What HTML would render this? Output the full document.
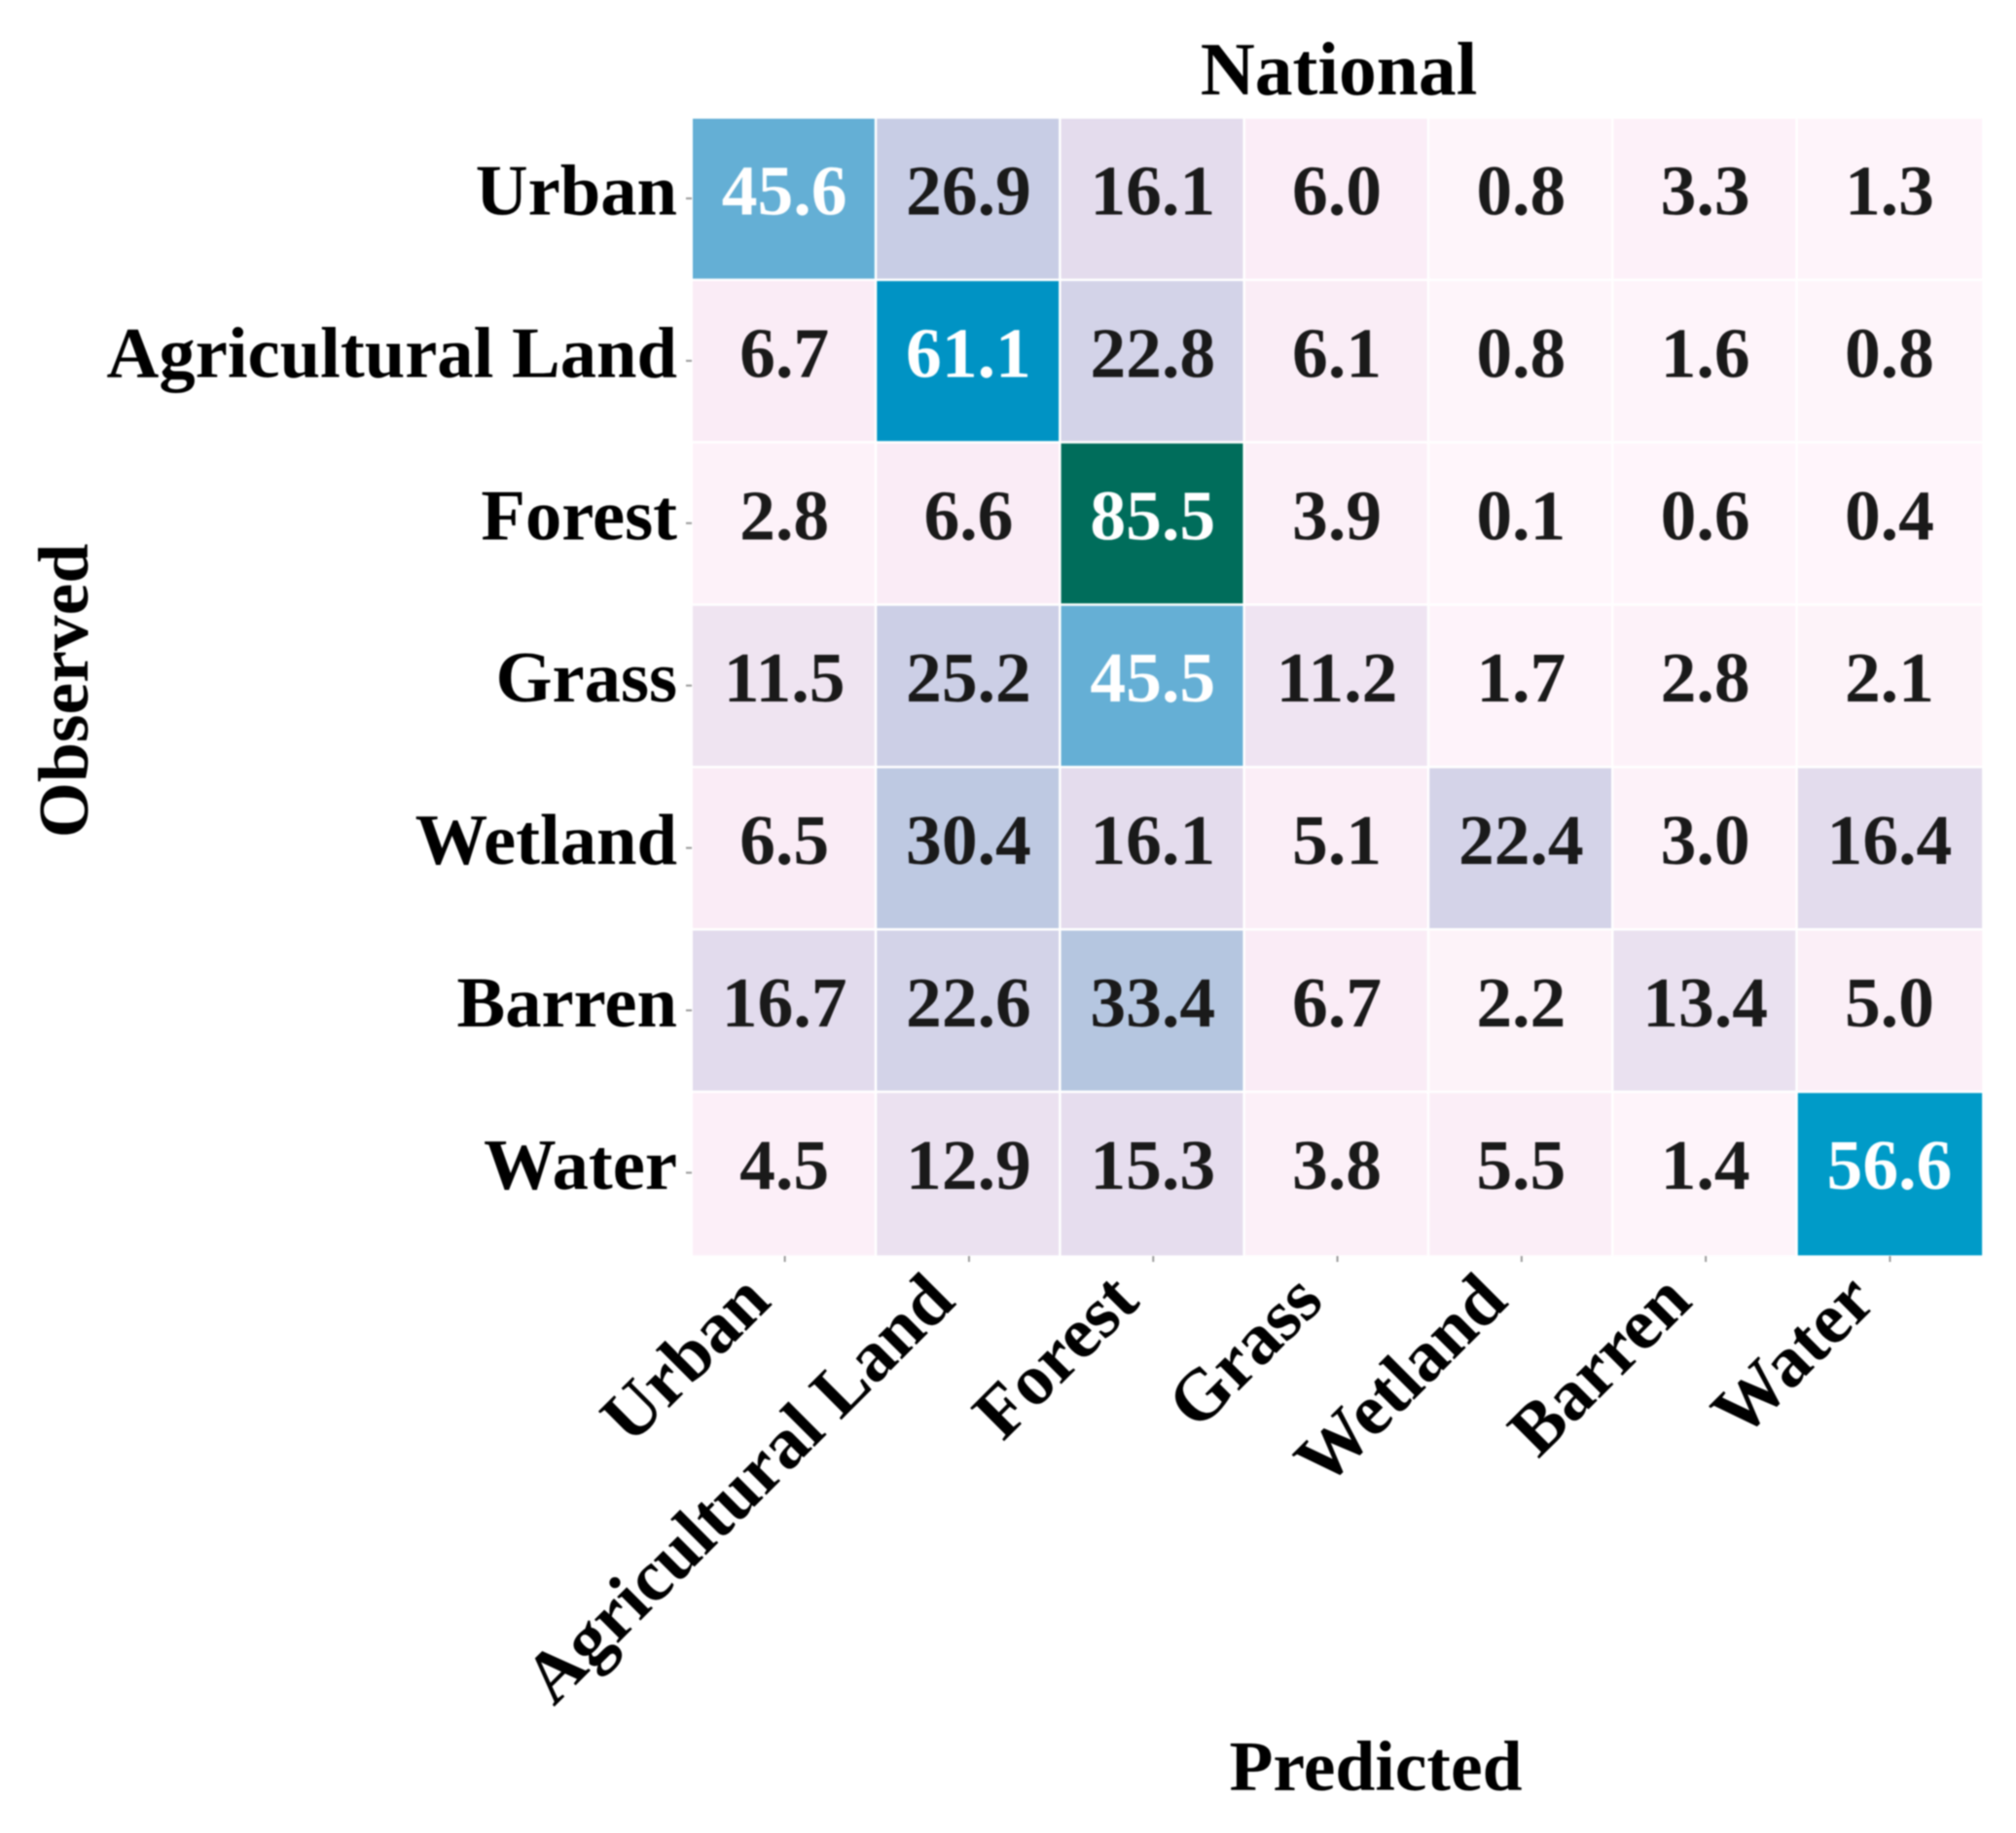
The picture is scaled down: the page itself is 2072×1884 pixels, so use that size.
<!DOCTYPE html>
<html lang="en">
<head>
<meta charset="utf-8">
<title>National confusion matrix</title>
<style>
html,body{margin:0;padding:0;background:#fff;width:2072px;height:1884px;overflow:hidden}
svg{display:block;filter:blur(0.85px)}
text{font-family:"Liberation Serif",serif;font-weight:bold}
</style>
</head>
<body>
<svg id="chart" xmlns="http://www.w3.org/2000/svg" width="2072" height="1884" viewBox="0 0 2072 1884">
  <text x="1376" y="97" font-size="77.6" text-anchor="middle" fill="#000">National</text>
  <text x="1414" y="1840" font-size="73.6" text-anchor="middle" fill="#000">Predicted</text>
  <text transform="translate(90 710) rotate(-90)" font-size="73.6" text-anchor="middle" fill="#000">Observed</text>
  <g id="cells"></g>
  <g id="ticks"></g>
  <g id="labels"></g>
  <g id="values"></g>
</svg>
<script>
const categories = ["Urban", "Agricultural Land", "Forest", "Grass", "Wetland", "Barren", "Water"];
const rowUrban = [45.6, 26.9, 16.1, 6.0, 0.8, 3.3, 1.3];
const rowAgricultural = [6.7, 61.1, 22.8, 6.1, 0.8, 1.6, 0.8];
const rowForest = [2.8, 6.6, 85.5, 3.9, 0.1, 0.6, 0.4];
const rowGrass = [11.5, 25.2, 45.5, 11.2, 1.7, 2.8, 2.1];
const rowWetland = [6.5, 30.4, 16.1, 5.1, 22.4, 3.0, 16.4];
const rowBarren = [16.7, 22.6, 33.4, 6.7, 2.2, 13.4, 5.0];
const rowWater = [4.5, 12.9, 15.3, 3.8, 5.5, 1.4, 56.6];
const matrix = [rowUrban, rowAgricultural, rowForest, rowGrass, rowWetland, rowBarren, rowWater];

const colorValues = [0, 6.7, 16.1, 26.9, 33.4, 45.6, 56.6, 61.1, 85.5, 100];
const colorHexes = ["#fff6fb", "#faecf6", "#e4dced", "#c8cde5", "#b5c6e0", "#64afd5", "#009bc8", "#0093c4", "#006d5b", "#014636"];

const SVG_NS = "http://www.w3.org/2000/svg";
const plotLeft = 712, plotTop = 122, colStep = 189.3, rowStep = 166.9, gap = 2.5;

function xLeft(i) { return plotLeft + i * colStep; }
function yTop(j) { return plotTop + j * rowStep; }
function xCenter(i) { return xLeft(i) + colStep / 2; }
function yCenter(j) { return yTop(j) + rowStep / 2; }

function hexToRgb(h) {
  return [parseInt(h.slice(1, 3), 16), parseInt(h.slice(3, 5), 16), parseInt(h.slice(5, 7), 16)];
}
function colorScale(v) {
  let k = 0;
  while (k < colorValues.length - 2 && v > colorValues[k + 1]) k++;
  const t = Math.max(0, Math.min(1, (v - colorValues[k]) / (colorValues[k + 1] - colorValues[k])));
  const a = hexToRgb(colorHexes[k]), b = hexToRgb(colorHexes[k + 1]);
  return "rgb(" + a.map((c, n) => Math.round(c + (b[n] - c) * t)).join(",") + ")";
}
function slug(s) { return s.toLowerCase().replace(/\s+/g, "-"); }

const cellsGroup = document.getElementById("cells");
const ticksGroup = document.getElementById("ticks");
const labelsGroup = document.getElementById("labels");
const valuesGroup = document.getElementById("values");

matrix.forEach(function (row, j) {
  row.forEach(function (value, i) {
    const rect = document.createElementNS(SVG_NS, "rect");
    rect.setAttribute("x", xLeft(i));
    rect.setAttribute("y", yTop(j));
    rect.setAttribute("width", i === 6 ? colStep : colStep - gap);
    rect.setAttribute("height", j === 6 ? rowStep : rowStep - gap);
    rect.setAttribute("fill", colorScale(value));
    
    
    cellsGroup.appendChild(rect);

    const label = document.createElementNS(SVG_NS, "text");
    label.setAttribute("x", xCenter(i) - 0.5);
    label.setAttribute("y", yCenter(j) + 15);
    label.setAttribute("font-size", "73.6");
    label.setAttribute("text-anchor", "middle");
    label.setAttribute("fill", value >= 45 ? "#ffffff" : "#1a1a1a");
    label.textContent = value.toFixed(1);
    
    
    valuesGroup.appendChild(label);
  });
});

categories.forEach(function (name, k) {
  const yTick = document.createElementNS(SVG_NS, "line");
  yTick.setAttribute("x1", 705);
  yTick.setAttribute("x2", 711);
  yTick.setAttribute("y1", yCenter(k) - 1.5);
  yTick.setAttribute("y2", yCenter(k) - 1.5);
  yTick.setAttribute("stroke", "#999");
  yTick.setAttribute("stroke-width", "2");
  
  
  ticksGroup.appendChild(yTick);

  const xTick = document.createElementNS(SVG_NS, "line");
  xTick.setAttribute("x1", xCenter(k));
  xTick.setAttribute("x2", xCenter(k));
  xTick.setAttribute("y1", 1291);
  xTick.setAttribute("y2", 1297);
  xTick.setAttribute("stroke", "#999");
  xTick.setAttribute("stroke-width", "2");
  
  
  ticksGroup.appendChild(xTick);

  const yLabel = document.createElementNS(SVG_NS, "text");
  yLabel.setAttribute("x", 696);
  yLabel.setAttribute("y", yCenter(k) + 15);
  yLabel.setAttribute("font-size", "74.6");
  yLabel.setAttribute("text-anchor", "end");
  yLabel.setAttribute("fill", "#000");
  yLabel.textContent = name;
  
  
  labelsGroup.appendChild(yLabel);

  const xLabel = document.createElementNS(SVG_NS, "text");
  xLabel.setAttribute("transform", "translate(" + (xCenter(k) - 12) + " 1340) rotate(-45)");
  xLabel.setAttribute("font-size", "74.6");
  xLabel.setAttribute("text-anchor", "end");
  xLabel.setAttribute("fill", "#000");
  xLabel.textContent = name;
  
  
  labelsGroup.appendChild(xLabel);
});
</script>
</body>
</html>
